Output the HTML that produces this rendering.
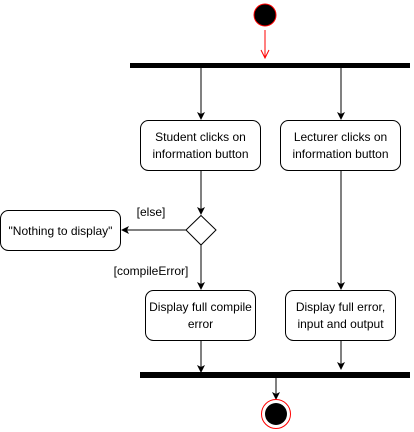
<!DOCTYPE html>
<html><head><meta charset="utf-8"><style>
html,body{margin:0;padding:0;background:#fff;}
svg{display:block;}
text{font-family:"Liberation Sans",Arial,sans-serif;font-size:12px;fill:#000;}
</style></head><body>
<svg width="414" height="432" viewBox="0 0 414 432" xmlns="http://www.w3.org/2000/svg">
<defs>
<marker id="a" markerWidth="8" markerHeight="8" refX="7" refY="4" orient="auto" markerUnits="userSpaceOnUse">
<path d="M0,0 L8,4 L0,8 L2,4 Z" fill="#000"/>
</marker>
</defs>
<!-- start -->
<circle cx="265" cy="15" r="11" fill="#000" stroke="#ff0000" stroke-width="1"/>
<line x1="265" y1="30" x2="265" y2="58" stroke="#ff0000"/>
<path d="M261,50 L265,58 L269,50" fill="none" stroke="#ff0000"/>
<!-- top bar -->
<rect x="130" y="63" width="280" height="5" fill="#000"/>
<line x1="201" y1="68" x2="201" y2="119" stroke="#000" marker-end="url(#a)"/>
<line x1="341" y1="68" x2="341" y2="119" stroke="#000" marker-end="url(#a)"/>
<!-- boxes -->
<rect x="140.5" y="120.5" width="120" height="50" rx="8" fill="#fff" stroke="#000"/>
<text x="200.5" y="141" text-anchor="middle">Student clicks on</text>
<text x="200.5" y="158" text-anchor="middle">information button</text>
<rect x="280.5" y="120.5" width="120" height="50" rx="8" fill="#fff" stroke="#000"/>
<text x="340.5" y="141" text-anchor="middle">Lecturer clicks on</text>
<text x="340.5" y="158" text-anchor="middle">information button</text>
<line x1="201" y1="171" x2="201" y2="214" stroke="#000" marker-end="url(#a)"/>
<polygon points="201,215.5 216,230 201,245 186,230" fill="#fff" stroke="#000"/>
<line x1="186" y1="230" x2="122" y2="230" stroke="#000" marker-end="url(#a)"/>
<rect x="0.5" y="210.5" width="120" height="40" rx="8" fill="#fff" stroke="#000"/>
<text x="60.5" y="235" text-anchor="middle">"Nothing to display"</text>
<text x="151" y="216" text-anchor="middle">[else]</text>
<text x="151" y="275" text-anchor="middle">[compileError]</text>
<line x1="201" y1="245" x2="201" y2="289" stroke="#000" marker-end="url(#a)"/>
<line x1="341" y1="171" x2="341" y2="289" stroke="#000" marker-end="url(#a)"/>
<rect x="145.5" y="290.5" width="110" height="50" rx="8" fill="#fff" stroke="#000"/>
<text x="200.5" y="311" text-anchor="middle">Display full compile</text>
<text x="200.5" y="328" text-anchor="middle">error</text>
<rect x="285.5" y="290.5" width="110" height="50" rx="8" fill="#fff" stroke="#000"/>
<text x="340.5" y="311" text-anchor="middle">Display full error,</text>
<text x="340.5" y="328" text-anchor="middle">input and output</text>
<line x1="201" y1="341" x2="201" y2="372" stroke="#000" marker-end="url(#a)"/>
<line x1="341" y1="341" x2="341" y2="369" stroke="#000" marker-end="url(#a)"/>
<!-- bottom bar -->
<rect x="140" y="372" width="270" height="6" fill="#000"/>
<line x1="276" y1="378" x2="276" y2="399" stroke="#000" marker-end="url(#a)"/>
<circle cx="276" cy="414" r="14.5" fill="#fff" stroke="#ff0000"/>
<circle cx="276" cy="414" r="11" fill="#000"/>
</svg>
</body></html>
